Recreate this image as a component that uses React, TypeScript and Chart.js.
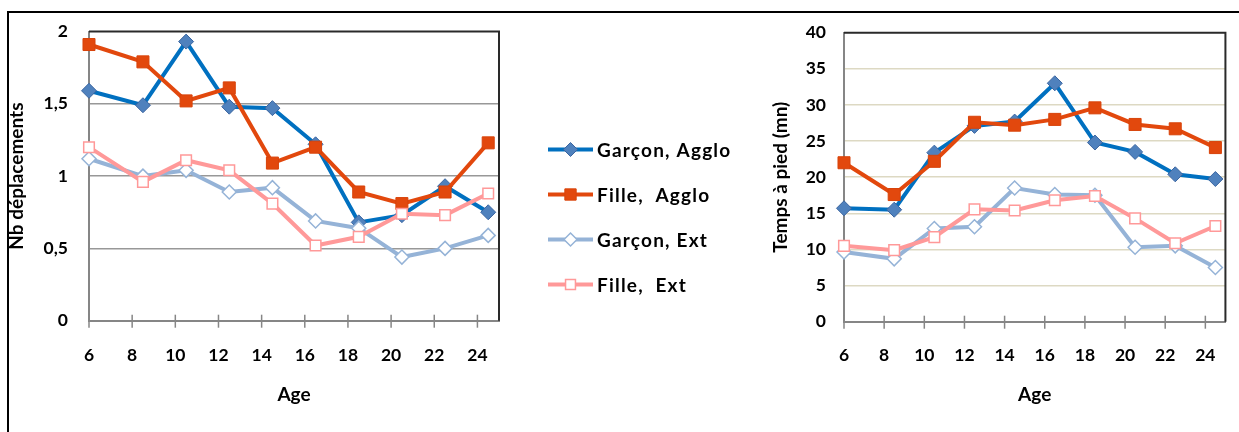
import React, { useEffect, useRef } from 'react';
import { Chart, registerables } from 'chart.js';

Chart.register(...registerables);

// ---------- data ----------
const ages = [6, 8.5, 10.5, 12.5, 14.5, 16.5, 18.5, 20.5, 22.5, 24.5];
const ageTicks = [6, 8, 10, 12, 14, 16, 18, 20, 22, 24];
const seriesNames = ['Garçon, Agglo', 'Fille,  Agglo', 'Garçon, Ext', 'Fille,  Ext'];

const tripsGarconAgglo = [1.59, 1.49, 1.93, 1.48, 1.47, 1.22, 0.68, 0.73, 0.93, 0.75];
const tripsFilleAgglo = [1.91, 1.79, 1.52, 1.61, 1.09, 1.2, 0.89, 0.81, 0.89, 1.23];
const tripsGarconExt = [1.12, 1.0, 1.04, 0.89, 0.92, 0.69, 0.64, 0.44, 0.5, 0.59];
const tripsFilleExt = [1.2, 0.96, 1.11, 1.04, 0.81, 0.52, 0.58, 0.74, 0.73, 0.88];
const tripTicks = [0, 0.5, 1, 1.5, 2];

const walkGarconAgglo = [15.7, 15.5, 23.4, 27.1, 27.7, 33.0, 24.8, 23.5, 20.4, 19.75];
const walkFilleAgglo = [22.0, 17.6, 22.2, 27.6, 27.2, 28.0, 29.6, 27.3, 26.7, 24.1];
const walkGarconExt = [9.65, 8.7, 12.9, 13.15, 18.5, 17.6, 17.5, 10.3, 10.5, 7.5];
const walkFilleExt = [10.5, 9.9, 11.7, 15.55, 15.4, 16.8, 17.4, 14.3, 10.85, 13.25];
const walkTicks = [0, 5, 10, 15, 20, 25, 30, 35, 40];

// ---------- styles ----------
const FONT = 'Lato';
const tickFont = { family: FONT, weight: 'bold' as const, size: 17.5 };
const titleFont = { family: FONT, weight: 'bold' as const, size: 19 };
const AXIS_GRAY = '#868686';

const seriesStyles = [
  { line: '#0070C0', shape: 'rectRot', radius: 7.5, fill: '#4F81BD', stroke: '#3B65A0', bw: 1, order: 3 },
  { line: '#E2480D', shape: 'rect', radius: 8.5, fill: '#E2480D', stroke: '#D8430A', bw: 1, order: 2 },
  { line: '#95B3D7', shape: 'rectRot', radius: 7, fill: '#FFFFFF', stroke: '#95B3D7', bw: 1.5, order: 1 },
  { line: '#FF9999', shape: 'rect', radius: 7.5, fill: '#FFFFFF', stroke: '#FF9999', bw: 1.5, order: 0 },
];

function buildDatasets(series: number[][]) {
  return series.map((vals, i) => {
    const s = seriesStyles[i];
    return {
      label: seriesNames[i],
      data: vals.map((v, j) => ({ x: ages[j], y: v })),
      borderColor: s.line,
      backgroundColor: s.line,
      borderWidth: 4,
      tension: 0,
      pointStyle: s.shape,
      pointRadius: s.radius,
      pointHoverRadius: s.radius,
      pointBackgroundColor: s.fill,
      pointBorderColor: s.stroke,
      pointBorderWidth: s.bw,
      order: s.order,
      clip: false as const,
    };
  });
}

function drawMarker(ctx: CanvasRenderingContext2D, shape: string, x: number, y: number, r: number, fill: string, stroke: string, bw: number) {
  ctx.beginPath();
  if (shape === 'rectRot') {
    ctx.moveTo(x - r, y);
    ctx.lineTo(x, y - r);
    ctx.lineTo(x + r, y);
    ctx.lineTo(x, y + r);
    ctx.closePath();
  } else {
    const h = r * Math.SQRT1_2;
    ctx.rect(x - h, y - h, 2 * h, 2 * h);
  }
  ctx.fillStyle = fill;
  ctx.fill();
  ctx.lineWidth = bw;
  ctx.strokeStyle = stroke;
  ctx.stroke();
}

const frameAndTicks = {
  id: 'frameAndTicks',
  beforeDatasetsDraw(chart: any) {
    const { ctx, chartArea: a, scales } = chart;
    const x = scales.x;
    ctx.save();
    ctx.strokeStyle = AXIS_GRAY;
    ctx.lineWidth = 1.5;
    for (const t of x.ticks) {
      const px = x.getPixelForValue(t.value);
      ctx.beginPath();
      ctx.moveTo(px, a.bottom - 6);
      ctx.lineTo(px, a.bottom + 7);
      ctx.stroke();
    }
    ctx.strokeStyle = '#2A2A2A';
    ctx.lineWidth = 2;
    ctx.beginPath();
    ctx.moveTo(a.left, a.top);
    ctx.lineTo(a.right, a.top);
    ctx.lineTo(a.right, a.bottom);
    ctx.stroke();
    ctx.restore();
  },
};

const legendPlugin = {
  id: 'sideLegend',
  afterDraw(chart: any) {
    const { ctx, chartArea: a } = chart;
    ctx.save();
    const x0 = a.right + 49;
    const lineLen = 45;
    const textX = a.right + 98;
    ctx.font = `bold 19px ${FONT}`;
    (ctx as any).letterSpacing = '1.2px';
    ctx.textBaseline = 'middle';
    ctx.textAlign = 'left';
    seriesNames.forEach((name, i) => {
      const s = seriesStyles[i];
      const y = a.top + 118 + i * 45;
      ctx.strokeStyle = s.line;
      ctx.lineWidth = 4;
      ctx.beginPath();
      ctx.moveTo(x0, y);
      ctx.lineTo(x0 + lineLen, y);
      ctx.stroke();
      drawMarker(ctx, s.shape, x0 + lineLen / 2, y, s.radius - 0.5, s.fill, s.stroke, s.bw);
      ctx.fillStyle = '#000';
      ctx.fillText(name, textX, y + 1);
    });
    ctx.restore();
  },
};

function makeConfig(opts: {
  series: number[][];
  yTicks: number[];
  yMax: number;
  yTitle: string;
  gridColor: string;
  padding: { left: number; top: number; right: number; bottom: number };
  yWidth: number;
  xHeight: number;
  xTickPad: number;
  yTickPad: number;
  yTitlePad: number;
  withLegend: boolean;
}): any {
  return {
    type: 'line',
    data: { datasets: buildDatasets(opts.series) },
    plugins: opts.withLegend ? [frameAndTicks, legendPlugin] : [frameAndTicks],
    options: {
      animation: false,
      responsive: false,
      devicePixelRatio: 1,
      layout: { padding: opts.padding },
      plugins: { legend: { display: false }, tooltip: { enabled: false } },
      events: [],
      scales: {
        x: {
          type: 'linear',
          min: 6,
          max: 25,
          afterBuildTicks: (s: any) => {
            s.ticks = ageTicks.map((v) => ({ value: v }));
          },
          afterFit: (s: any) => {
            s.height = opts.xHeight;
          },
          grid: { drawOnChartArea: false, drawTicks: false },
          border: { display: true, color: AXIS_GRAY, width: 2 },
          ticks: { padding: opts.xTickPad, font: tickFont, color: '#000', maxRotation: 0, autoSkip: false },
          title: { display: true, text: 'Age', font: titleFont, color: '#000', padding: { top: 0, bottom: 4 } },
        },
        y: {
          type: 'linear',
          min: 0,
          max: opts.yMax,
          afterBuildTicks: (s: any) => {
            s.ticks = opts.yTicks.map((v) => ({ value: v }));
          },
          afterFit: (s: any) => {
            s.width = opts.yWidth;
          },
          grid: {
            drawTicks: false,
            lineWidth: 1.5,
            color: (c: any) =>
              c.tick && (c.tick.value === 0 || c.tick.value === opts.yMax) ? 'rgba(0,0,0,0)' : opts.gridColor,
          },
          border: { display: true, color: AXIS_GRAY, width: 2 },
          ticks: {
            padding: opts.yTickPad,
            font: tickFont,
            color: '#000',
            callback: (v: any) => String(v).replace('.', ','),
          },
          title: { display: true, text: opts.yTitle, font: titleFont, color: '#000', padding: { top: opts.yTitlePad, bottom: 0 } },
        },
      },
    },
  };
}

function ChartCanvas({ config, left, width }: { config: any; left: number; width: number }) {
  const ref = useRef<HTMLCanvasElement | null>(null);
  useEffect(() => {
    if (!ref.current) return;
    const chart = new Chart(ref.current, config);
    return () => chart.destroy();
  }, [config]);
  return (
    <canvas
      ref={ref}
      width={width}
      height={432}
      style={{ position: 'absolute', left, top: 0, width, height: 432 }}
    />
  );
}

const leftConfig = makeConfig({
  series: [tripsGarconAgglo, tripsFilleAgglo, tripsGarconExt, tripsFilleExt],
  yTicks: tripTicks,
  yMax: 2,
  yTitle: 'Nb déplacements',
  gridColor: '#989898',
  padding: { left: 0, top: 30, right: 261, bottom: 21.6 },
  yWidth: 89,
  xHeight: 89.7,
  xTickPad: 24,
  yTickPad: 21,
  yTitlePad: 5.6,
  withLegend: true,
});

const rightConfig = makeConfig({
  series: [walkGarconAgglo, walkFilleAgglo, walkGarconExt, walkFilleExt],
  yTicks: walkTicks,
  yMax: 40,
  yTitle: 'Temps à pied (mn)',
  gridColor: '#DDD9C3',
  padding: { left: 0, top: 32.7, right: 4, bottom: 21.6 },
  yWidth: 84,
  xHeight: 88.7,
  xTickPad: 23,
  yTickPad: 18,
  yTitlePad: 9.6,
  withLegend: false,
});

export default function App() {
  return (
    <div style={{ position: 'fixed', left: 0, top: 0, width: 1239, height: 432, background: '#fff', overflow: 'hidden' }}>
      <div
        style={{
          position: 'absolute',
          left: 7,
          top: 11,
          width: 1240,
          height: 430,
          borderTop: '2px solid #000',
          borderLeft: '2px solid #000',
        }}
      />
      <ChartCanvas config={leftConfig} left={0} width={760} />
      <ChartCanvas config={rightConfig} left={760} width={479} />
    </div>
  );
}
